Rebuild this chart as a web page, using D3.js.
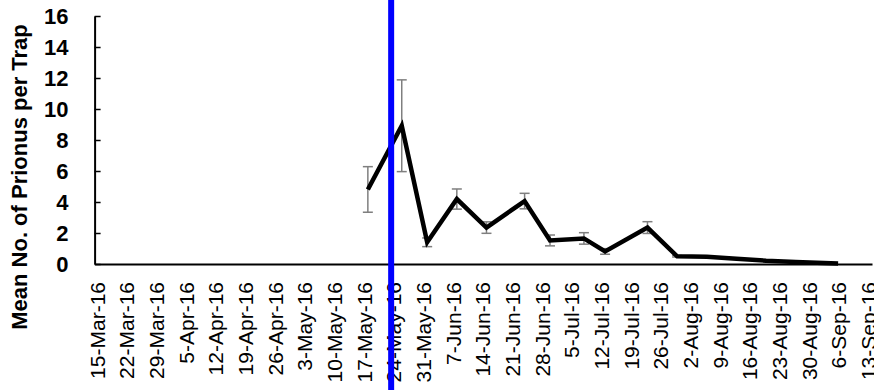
<!DOCTYPE html>
<html>
<head>
<meta charset="utf-8">
<script src="https://cdn.jsdelivr.net/npm/d3@7"></script>
<style>
  html, body { margin: 0; padding: 0; background: #fff; }
  svg { display: block; }
</style>
</head>
<body>
<svg id="chart" width="874" height="390"></svg>
<script>
// Trap catch data (2016 season)
const sampleDates = ["2016-05-17", "2016-05-25", "2016-05-31", "2016-06-07", "2016-06-14",
  "2016-06-23", "2016-06-29", "2016-07-07", "2016-07-12", "2016-07-22", "2016-07-29",
  "2016-08-05", "2016-08-12", "2016-08-19", "2016-08-26", "2016-09-05"];
const meanCatch = [4.81, 8.92, 1.4, 4.19, 2.35, 4.06, 1.52, 1.65, 0.81, 2.35, 0.5,
  0.47, 0.34, 0.21, 0.13, 0.03];
const stdError = [1.47, 2.96, 0.28, 0.65, 0.37, 0.5, 0.35, 0.37, 0.18, 0.38, 0.05,
  null, null, null, null, null];
const yTicks = [0, 2, 4, 6, 8, 10, 12, 14, 16];
const axisStart = "2016-03-13T12:00";
const axisEnd = "2016-09-13";
const firstTick = "2016-03-15";
const tickCount = 27;              // weekly labels
const markerDate = "2016-05-22T12:00";
const yTitle = "Mean No. of Prionus per Trap";

const parse = s => new Date(s.length > 10 ? s : s + "T00:00");
const rows = sampleDates.map((d, i) => ({ date: parse(d), mean: meanCatch[i], se: stdError[i] }));
const tickDates = d3.range(tickCount).map(i => d3.timeDay.offset(parse(firstTick), 7 * i));

const svg = d3.select("#chart");
const x = d3.scaleTime().domain([parse(axisStart), parse(axisEnd)]).range([94.6, 872]);
const y = d3.scaleLinear().domain([0, 16]).range([264, 16]);
const fmt = d3.timeFormat("%-d-%b-%y");

// Y axis with inside tick marks
const yAxis = svg.append("g")
  .attr("transform", `translate(${x.range()[0]},0)`)
  .call(d3.axisLeft(y).tickValues(yTicks).tickSizeInner(-6).tickSizeOuter(0).tickPadding(26));
yAxis.select(".domain").attr("stroke", "#000").attr("stroke-width", 2);
yAxis.selectAll(".tick line").attr("stroke", "#000").attr("stroke-width", 1.5);
yAxis.selectAll("text")
  .attr("fill", "#000")
  .style("font-family", "'Liberation Sans', Arial, sans-serif")
  .style("font-weight", "bold")
  .style("font-size", "22px");

// X (date) axis, weekly labels rotated
const xAxis = svg.append("g")
  .attr("transform", `translate(0,${y(0)})`)
  .call(d3.axisBottom(x).tickValues(tickDates).tickFormat(fmt).tickSize(0).tickSizeOuter(0));
xAxis.select(".domain").attr("stroke", "#000").attr("stroke-width", 2);
xAxis.selectAll("text")
  .attr("fill", "#000")
  .attr("text-anchor", "end")
  .attr("x", 0).attr("y", 0).attr("dy", "0.35em")
  .attr("transform", "translate(-4,18) rotate(-90)")
  .style("font-family", "'Liberation Sans', Arial, sans-serif")
  .style("font-size", "21px");

// Error bars
const eb = svg.append("g").attr("stroke", "#7f7f7f").attr("stroke-width", 1.5);
rows.filter(r => r.se != null).forEach(r => {
  const cx = x(r.date);
  const y1 = y(r.mean + r.se), y2 = y(r.mean - r.se);
  eb.append("line").attr("x1", cx).attr("x2", cx).attr("y1", y1).attr("y2", y2);
  eb.append("line").attr("x1", cx - 5).attr("x2", cx + 5).attr("y1", y1).attr("y2", y1);
  eb.append("line").attr("x1", cx - 5).attr("x2", cx + 5).attr("y1", y2).attr("y2", y2);
});

// Mean catch line
svg.append("path")
  .datum(rows)
  .attr("fill", "none")
  .attr("stroke", "#000")
  .attr("stroke-width", 4.5)
  .attr("d", d3.line().x(d => x(d.date)).y(d => y(d.mean)));

// Vertical date marker
const mx = x(parse(markerDate));
svg.append("line")
  .attr("x1", mx).attr("x2", mx).attr("y1", 0).attr("y2", 390)
  .attr("stroke", "#0000ff").attr("stroke-width", 6);

// Y axis title
svg.append("text")
  .attr("transform", "translate(27,177) rotate(-90)")
  .attr("text-anchor", "middle")
  .attr("fill", "#000")
  .style("font-family", "'Liberation Sans', Arial, sans-serif")
  .style("font-weight", "bold")
  .style("font-size", "22px")
  .text(yTitle);
</script>
</body>
</html>
